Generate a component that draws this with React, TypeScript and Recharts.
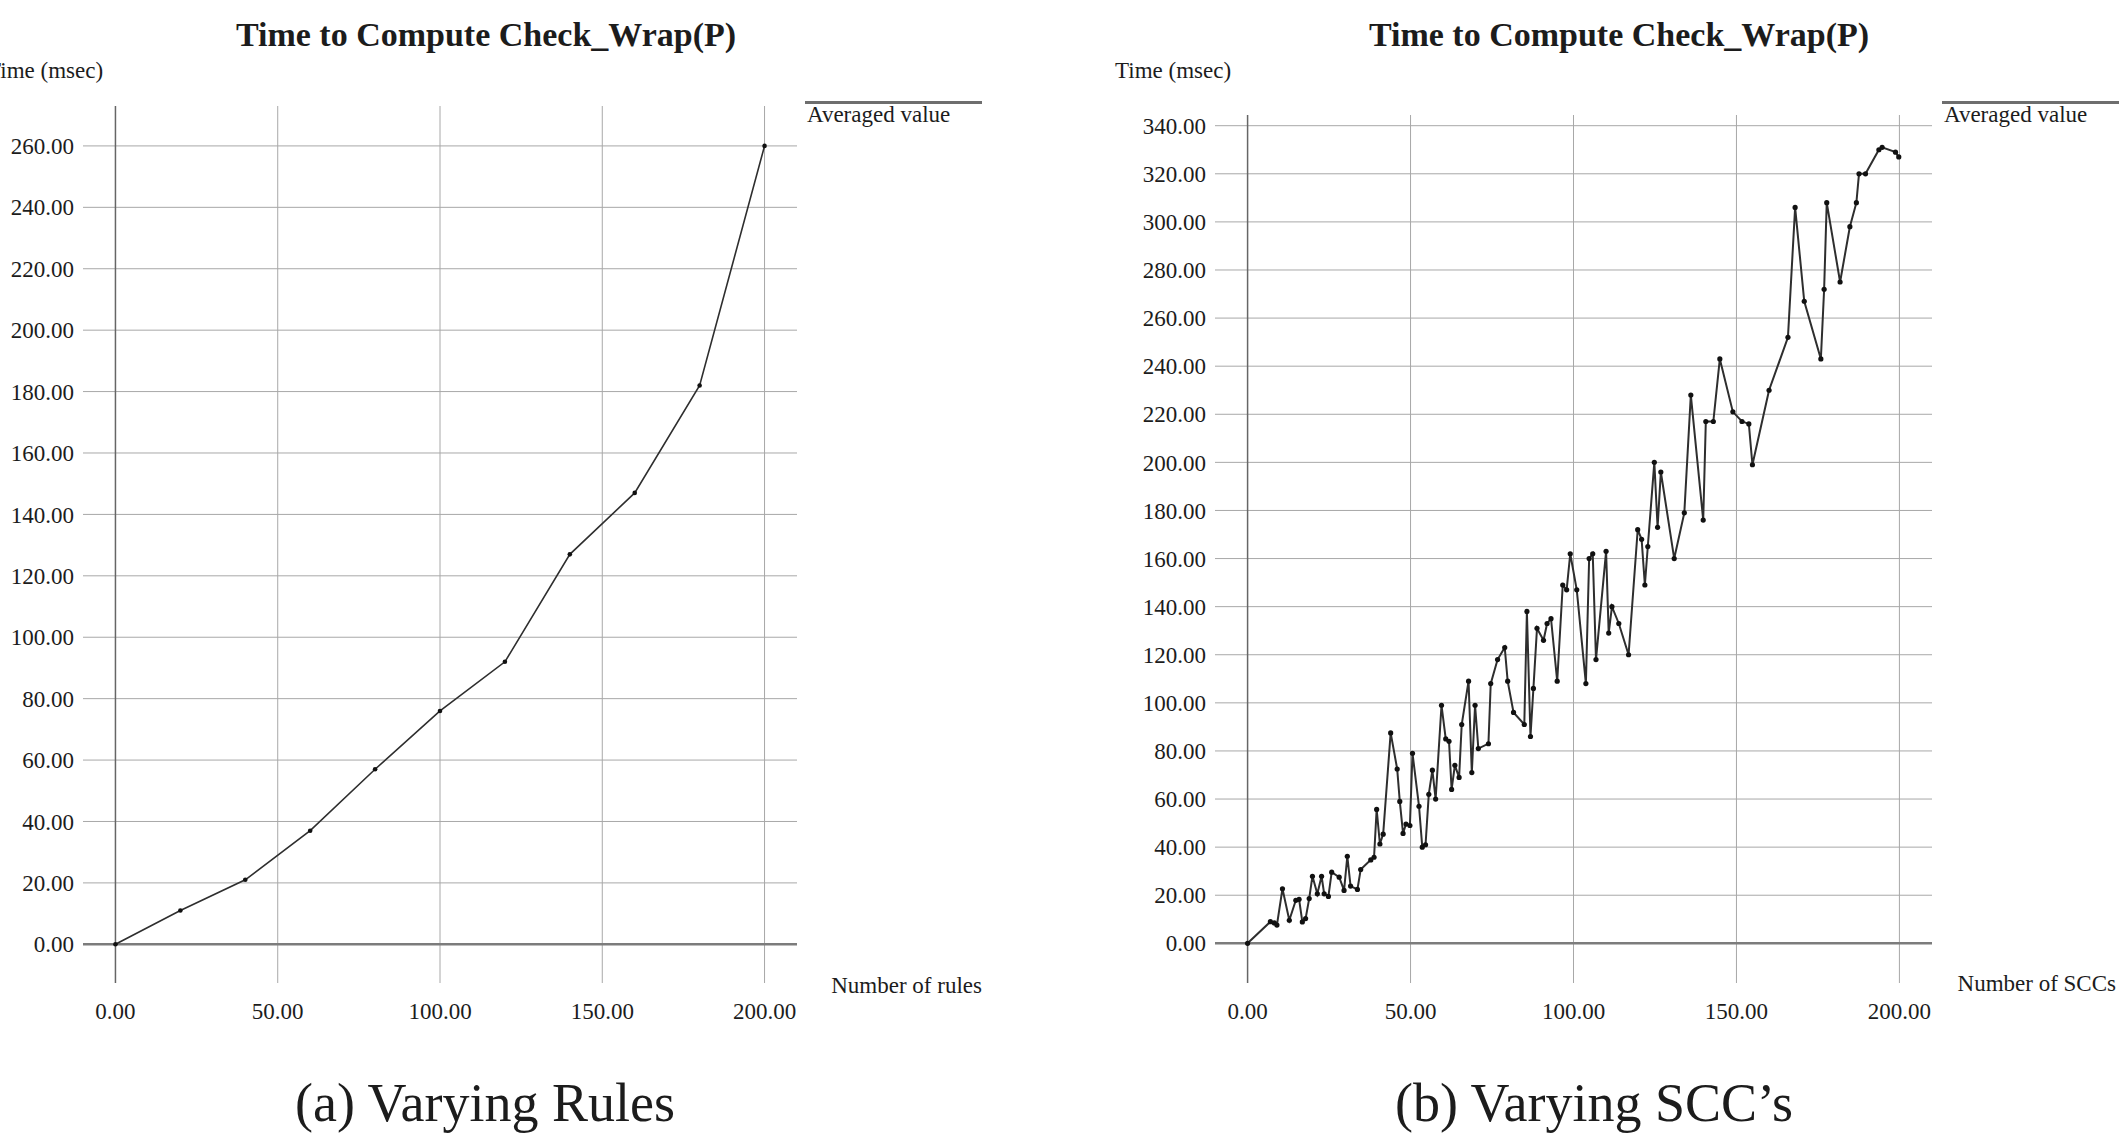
import { LineChart, Line, XAxis, YAxis, ReferenceLine } from 'recharts';

// (a) varying rules
const ruleCounts = [0, 20, 40, 60, 80, 100, 120, 140, 160, 180, 200];
const ruleTimes = [0, 11, 21, 37, 57, 76, 92, 127, 147, 182, 260];

// (b) varying SCCs
const sccCounts = [
  0, 7, 8.2, 9, 10.7, 12.8, 14.8, 15.8, 16.8, 17.8, 18.9, 19.9, 21.4, 22.7, 23.5, 24.8,
  25.8, 28.1, 29.6, 30.6, 31.6, 33.7, 34.7, 37.8, 38.8, 39.6, 40.6, 41.6, 43.9, 45.9,
  46.7, 47.7, 48.6, 49.8, 50.6, 52.6, 53.6, 54.6, 55.6, 56.7, 57.7, 59.5, 60.8, 61.8,
  62.6, 63.6, 64.9, 65.7, 67.8, 68.8, 69.8, 70.8, 73.9, 74.6, 76.7, 78.9, 79.8, 81.6,
  84.9, 85.7, 86.8, 87.7, 88.8, 90.8, 91.9, 93.1, 95, 96.7, 97.9, 99, 101, 103.8,
  104.8, 105.9, 106.9, 110, 110.8, 111.8, 113.9, 116.9, 119.7, 120.9, 121.9, 122.8,
  124.8, 125.8, 126.8, 130.9, 134, 136, 139.8, 140.6, 142.9, 144.9, 148.9, 151.7,
  153.8, 154.9, 160, 165.8, 168, 170.8, 175.9, 176.9, 177.7, 181.8, 184.8, 186.8,
  187.6, 189.6, 193.7, 194.7, 198.8, 199.8,
];
const sccTimes = [
  0, 9, 8.5, 7.6, 22.7, 9.6, 17.9, 18.3, 8.9, 10.3, 18.6, 27.9, 20.6, 27.9, 20.6, 19.5,
  29.6, 27.5, 22, 36.2, 23.8, 22.4, 30.7, 34.7, 35.8, 55.7, 41.3, 45.4, 87.5, 72.5,
  59, 45.7, 49.6, 49, 79, 57, 40, 41, 62, 72, 60, 99, 85, 84,
  64, 74, 69, 91, 109, 71, 99, 81, 83, 108, 118, 123, 109, 96,
  91, 138, 86, 106, 131, 126, 133, 135, 109, 149, 147, 162, 147, 108,
  160, 162, 118, 163, 129, 140, 133, 120, 172, 168, 149, 165,
  200, 173, 196, 160, 179, 228, 176, 217, 217, 243, 221, 217,
  216, 199, 230, 252, 306, 267, 243, 272, 308, 275, 298, 308,
  320, 320, 330, 331, 329, 327,
];

const xTicks = [0, 50, 100, 150, 200];
const ruleYTicks = [0, 20, 40, 60, 80, 100, 120, 140, 160, 180, 200, 220, 240, 260];
const sccYTicks = [0, 20, 40, 60, 80, 100, 120, 140, 160, 180, 200, 220, 240, 260, 280, 300, 320, 340];

const FONT = "'Liberation Serif', 'Times New Roman', serif";
const TEXT = '#1c1c1c';
const GRID = '#a8a8a8';
const tickStyle = { fontSize: 23, fill: TEXT, fontFamily: FONT };

interface PanelProps {
  left: number;
  width: number;
  counts: number[];
  times: number[];
  yTicks: number[];
  yDomain: [number, number];
  margin: { top: number; right: number; bottom: number; left: number };
  lineWidth: number;
  dotR: number;
}

function Panel({ left, width, counts, times, yTicks, yDomain, margin, lineWidth, dotR }: PanelProps) {
  const data = counts.map((x, i) => ({ x, y: times[i] }));
  return (
    <div style={{ position: 'absolute', left, top: 0 }}>
      <LineChart width={width} height={1142} data={data} margin={margin}>
        <XAxis
          dataKey="x"
          type="number"
          domain={[-10, 210]}
          ticks={xTicks}
          interval={0}
          height={30}
          axisLine={false}
          tickLine={false}
          tickSize={0}
          tickMargin={20}
          tick={tickStyle}
          tickFormatter={(v: number) => v.toFixed(2)}
        />
        <YAxis
          type="number"
          domain={yDomain}
          ticks={yTicks}
          interval={0}
          width={60}
          axisLine={false}
          tickLine={false}
          tickSize={0}
          tickMargin={9}
          tick={tickStyle}
          tickFormatter={(v: number) => v.toFixed(2)}
        />
        {/* grid: only at the tick values, no frame */}
        {yTicks.filter((t) => t !== 0).map((t) => (
          <ReferenceLine key={'h' + t} y={t} stroke={GRID} strokeWidth={1} />
        ))}
        {xTicks.filter((t) => t !== 0).map((t) => (
          <ReferenceLine key={'v' + t} x={t} stroke={GRID} strokeWidth={1} />
        ))}
        <ReferenceLine y={0} stroke="#7c7c7c" strokeWidth={2.5} />
        <ReferenceLine x={0} stroke="#666" strokeWidth={1.5} />
        <Line
          type="linear"
          dataKey="y"
          stroke="#2e2e2e"
          strokeWidth={lineWidth}
          dot={{ r: dotR, fill: '#111', stroke: 'none' }}
          isAnimationActive={false}
        />
      </LineChart>
    </div>
  );
}

const textBase = { position: 'absolute' as const, fontFamily: FONT, color: TEXT, whiteSpace: 'nowrap' as const, lineHeight: 1 };

function Centered({ x, y, size, bold, children }: { x: number; y: number; size: number; bold?: boolean; children: string }) {
  return (
    <div style={{ ...textBase, left: x, top: y, fontSize: size, fontWeight: bold ? 700 : 400, transform: 'translate(-50%, -50%)' }}>
      {children}
    </div>
  );
}

function LeftText({ x, y, children }: { x: number; y: number; children: string }) {
  return (
    <div style={{ ...textBase, left: x, top: y, fontSize: 23, transform: 'translateY(-50%)' }}>{children}</div>
  );
}

function RightText({ x, y, children }: { x: number; y: number; children: string }) {
  return (
    <div style={{ ...textBase, left: x, top: y, fontSize: 23, transform: 'translate(-100%, -50%)' }}>{children}</div>
  );
}

function LegendKey({ x, y }: { x: number; y: number }) {
  return (
    <>
      <div style={{ position: 'absolute', left: x, top: y - 1, width: 177, height: 2.5, background: '#6e6e6e' }} />
      <LeftText x={x + 2} y={y + 12}>Averaged value</LeftText>
    </>
  );
}

export default function App() {
  return (
    <div style={{ position: 'absolute', left: 0, top: 0, width: 2121, height: 1142, background: '#fff', overflow: 'hidden' }}>
      <Panel
        left={0}
        width={1060}
        counts={ruleCounts}
        times={ruleTimes}
        yTicks={ruleYTicks}
        yDomain={[-12.6, 273]}
        margin={{ top: 106, right: 263, bottom: 129, left: 23 }}
        lineWidth={1.6}
        dotR={2.3}
      />
      <Panel
        left={1060}
        width={1061}
        counts={sccCounts}
        times={sccTimes}
        yTicks={sccYTicks}
        yDomain={[-16.5, 344.45]}
        margin={{ top: 115, right: 189, bottom: 129, left: 95 }}
        lineWidth={2}
        dotR={2.6}
      />

      <Centered x={486} y={35} size={34} bold>Time to Compute Check_Wrap(P)</Centered>
      <Centered x={1619} y={35} size={34} bold>Time to Compute Check_Wrap(P)</Centered>

      <LeftText x={-13} y={70}>Time (msec)</LeftText>
      <LeftText x={1115} y={70}>Time (msec)</LeftText>

      <LegendKey x={805} y={102} />
      <LegendKey x={1942} y={102} />

      <RightText x={982} y={985}>Number of rules</RightText>
      <RightText x={2116} y={983}>Number of SCCs</RightText>

      <Centered x={485} y={1103} size={54}>(a) Varying Rules</Centered>
      <Centered x={1594} y={1103} size={54}>(b) Varying SCC’s</Centered>
    </div>
  );
}
